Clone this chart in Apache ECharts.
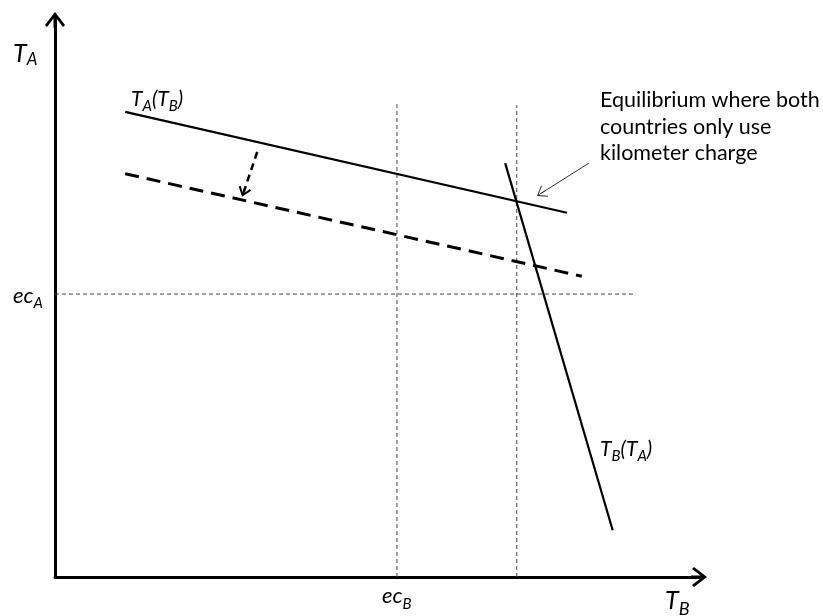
<!DOCTYPE html>
<html>
<head>
<meta charset="utf-8">
<script src="https://cdn.jsdelivr.net/npm/echarts@6/dist/echarts.min.js"></script>
<style>
html,body{margin:0;padding:0;background:#fff;}
#chart{width:823px;height:616px;}
</style>
</head>
<body>
<div id="chart"></div>
<script>
// ---- data (abstract units, axes run 0..100) ----
const axisMax = [100, 100];
const taOfTb = [[10.9, 83.5], [79.5, 65.4]];          // T_A(T_B) reaction curve
const taShifted = [[10.9, 72.4], [81.8, 54.0]];       // shifted T_A(T_B) (dashed)
const tbOfTa = [[69.9, 74.3], [86.6, 8.4]];           // T_B(T_A) reaction curve
const ecALine = [[0, 50.8], [89.8, 50.8]];            // ec_A guide
const ecBLine = [[53.1, 0], [53.1, 84.9]];            // ec_B guide
const eqLine = [[71.7, 0], [71.7, 84.7]];             // equilibrium guide
const shiftArrow = [[31.4, 76.3], [29.3, 69.1]];      // downward shift arrow
const noteArrow = [[82.9, 74.3], [75.5, 68.9]];       // annotation arrow
const noteLines = ['Equilibrium where both', 'countries only use', 'kilometer charge'];

const FONT = 'Lato';
const axisArrow = 'path://M10,0 L20,13 L18,15 L11.5,6.5 L11.5,16 L8.5,16 L8.5,6.5 L2,15 L0,13 Z';
const smallArrow = 'path://M10,0 L20,14 L17.5,16 L11.3,7 L11.3,16 L8.7,16 L8.7,7 L2.5,16 L0,14 Z';
const thinArrow = 'path://M10,0 L20,14 L19,15.3 L10.6,3.5 L10.6,16 L9.4,16 L9.4,3.5 L1,15.3 L0,14 Z';

function sub(parts, F, S, d) {
  const drop = Math.round(0.8 * (F - S) + d);
  return {
    text: parts.map(p => '{' + (p[1] ? 's' : 'm') + '|' + p[0] + '}').join(''),
    rich: {
      m: {fontSize: F, lineHeight: F, fontStyle: 'italic', fontFamily: FONT, verticalAlign: 'top', fill: '#000'},
      s: {fontSize: S, lineHeight: S, fontStyle: 'italic', fontFamily: FONT, verticalAlign: 'top', padding: [drop, 0, 0, 0], fill: '#000'}
    }
  };
}
function textEl(x, y, parts, F, S, d) {
  return {type: 'text', x: x, y: y, style: Object.assign({align: 'left', verticalAlign: 'top', fill: '#000', font: 'italic ' + F + 'px ' + FONT}, sub(parts, F, S, d))};
}

const guideStyle = {color: '#444', width: 1, type: [4, 3]};

const chart = echarts.init(document.getElementById('chart'), null, {renderer: 'canvas'});
chart.setOption({
  animation: false,
  backgroundColor: '#fff',
  grid: {left: 55, right: 124, top: 20, bottom: 39, containLabel: false},
  xAxis: {
    type: 'value', min: 0, max: axisMax[0],
    axisLine: {show: true, onZero: false, lineStyle: {color: '#000', width: 3}, symbol: ['none', axisArrow], symbolSize: [20, 16]},
    axisTick: {show: false}, axisLabel: {show: false}, splitLine: {show: false}
  },
  yAxis: {
    type: 'value', min: 0, max: axisMax[1],
    axisLine: {show: true, onZero: false, lineStyle: {color: '#000', width: 3}, symbol: ['none', axisArrow], symbolSize: [20, 16]},
    axisTick: {show: false}, axisLabel: {show: false}, splitLine: {show: false}
  },
  series: [
    {type: 'line', name: 'ecA', data: ecALine, showSymbol: false, lineStyle: guideStyle, z: 1},
    {type: 'line', name: 'ecB', data: ecBLine, showSymbol: false, lineStyle: guideStyle, z: 1},
    {type: 'line', name: 'eq', data: eqLine, showSymbol: false, lineStyle: guideStyle, z: 1},
    {type: 'line', name: 'TA(TB)', data: taOfTb, showSymbol: false, lineStyle: {color: '#000', width: 2.2}, z: 3},
    {type: 'line', name: 'TA shifted', data: taShifted, showSymbol: false, lineStyle: {color: '#000', width: 3, type: [14, 8]}, z: 3},
    {type: 'line', name: 'TB(TA)', data: tbOfTa, showSymbol: false, lineStyle: {color: '#000', width: 2.2}, z: 3},
    {type: 'line', name: 'arrows', data: [], z: 4,
      markLine: {
        silent: true, animation: false, label: {show: false},
        symbol: ['none', 'none'],
        data: [
          [{coord: shiftArrow[0], symbol: 'none', lineStyle: {color: '#000', width: 2.5, type: [7, 5]}},
           {coord: shiftArrow[1], symbol: smallArrow, symbolSize: [13, 10]}],
          [{coord: noteArrow[0], symbol: 'none', lineStyle: {color: '#333', width: 1, type: 'solid'}},
           {coord: noteArrow[1], symbol: thinArrow, symbolSize: [13, 10]}]
        ]
      }
    }
  ],
  graphic: [
    textEl(13, 41, [['T', 0], ['A', 1]], 25, 17, 4),
    textEl(665, 588, [['T', 0], ['B', 1]], 25, 18, 6),
    textEl(13, 285, [['ec', 0], ['A', 1]], 22, 15, 5),
    textEl(382, 585, [['ec', 0], ['B', 1]], 22, 15, 6),
    textEl(131, 89, [['T', 0], ['A', 1], ['(T', 0], ['B', 1], [')', 0]], 21, 15, 5),
    textEl(600, 439, [['T', 0], ['B', 1], ['(T', 0], ['A', 1], [')', 0]], 21, 15, 5),
    {type: 'text', x: 600, y: 87, style: {text: noteLines.join('\n'), font: '21.5px ' + FONT, lineHeight: 26.5, fill: '#000', align: 'left', verticalAlign: 'top'}}
  ]
});
</script>
</body>
</html>
